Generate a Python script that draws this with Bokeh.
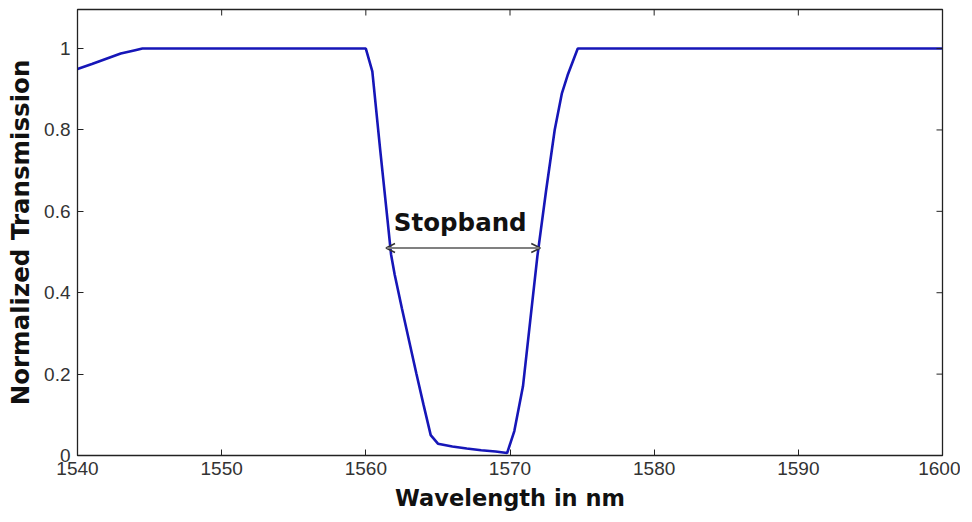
import math
from bokeh.plotting import figure
from bokeh.models import Range1d, FixedTicker, Arrow, OpenHead, Label
from bokeh.embed import file_html
from bokeh.resources import INLINE

# ---- data ----
wavelength = [1540, 1541, 1542, 1543, 1544, 1544.5, 1560, 1560.45, 1561.0, 1561.5,
              1561.75, 1562.0, 1562.5, 1563.0, 1563.5, 1564.0, 1564.5, 1565.0,
              1566.0, 1567.0, 1568.0, 1569.0, 1569.8, 1570.3, 1570.9, 1571.4,
              1571.9, 1572.5, 1573.1, 1573.6, 1574.0, 1574.7, 1600]
transmission = [0.950, 0.962, 0.975, 0.988, 0.996, 1.0, 1.0, 0.944, 0.75, 0.58,
                0.494, 0.445, 0.362, 0.282, 0.202, 0.125, 0.050, 0.029,
                0.022, 0.017, 0.013, 0.010, 0.006, 0.06, 0.17, 0.33,
                0.49, 0.65, 0.80, 0.89, 0.935, 1.0, 1.0]

x_ticks = [1540, 1550, 1560, 1570, 1580, 1590, 1600]
y_ticks = [0, 0.2, 0.4, 0.6, 0.8, 1]
y_tick_labels = {0: "0", 0.2: "0.2", 0.4: "0.4", 0.6: "0.6", 0.8: "0.8", 1: "1"}

x_min, x_max = 1540, 1600
y_min, y_max = 0, 1.096

stopband_start = 1561.4
stopband_end = 1572.1
stopband_level = 0.51
stopband_text = "Stopband"
stopband_text_x = 1566.55
stopband_text_y = 0.538

x_label = "Wavelength in nm"
y_label = "Normalized Transmission"

# ---- figure ----
p = figure(width=960, height=515, output_backend="svg", toolbar_location=None,
           x_range=Range1d(x_min, x_max), y_range=Range1d(y_min, y_max),
           min_border_left=77, min_border_right=18, min_border_top=9,
           min_border_bottom=60, background_fill_color="white",
           border_fill_color="white")
p.grid.visible = False
p.outline_line_color = "#222222"
p.outline_line_width = 1.3

p.line(wavelength, transmission, line_color="#1616b8", line_width=2.6)

tick_font = "Liberation Sans"
for ax in p.xaxis:
    ax.ticker = FixedTicker(ticks=x_ticks)
    ax.major_tick_in = 6
    ax.major_tick_out = 0
    ax.minor_tick_in = 0
    ax.minor_tick_out = 0
    ax.axis_line_color = "#222222"
    ax.major_tick_line_color = "#222222"
    ax.major_label_text_font = tick_font
    ax.major_label_text_font_size = "19px"
    ax.major_label_text_color = "#333333"
    ax.major_label_standoff = 6
    ax.axis_label = x_label
    ax.axis_label_text_font = "DejaVu Sans"
    ax.axis_label_text_font_style = "bold"
    ax.axis_label_text_font_size = "22.5px"
    ax.axis_label_text_color = "#111111"
    ax.axis_label_standoff = 7

for ax in p.yaxis:
    ax.ticker = FixedTicker(ticks=y_ticks)
    ax.major_label_overrides = y_tick_labels
    ax.major_tick_in = 6
    ax.major_tick_out = 0
    ax.minor_tick_in = 0
    ax.minor_tick_out = 0
    ax.axis_line_color = "#222222"
    ax.major_tick_line_color = "#222222"
    ax.major_label_text_font = tick_font
    ax.major_label_text_font_size = "19px"
    ax.major_label_text_color = "#333333"
    ax.major_label_standoff = 7
    ax.axis_label = y_label
    ax.axis_label_text_font = "DejaVu Sans"
    ax.axis_label_text_font_style = "bold"
    ax.axis_label_text_font_size = "24.5px"
    ax.axis_label_text_color = "#111111"
    ax.axis_label_standoff = 6

# mirrored inward ticks on the top and right edges (half of each dash is clipped by the frame)
p.scatter(x=x_ticks, y=[y_max] * len(x_ticks), marker="dash", size=12,
          angle=math.pi / 2, line_color="#222222", line_width=1)
p.scatter(x=[x_max] * len(y_ticks), y=y_ticks, marker="dash", size=12,
          line_color="#222222", line_width=1)

# stopband arrow and label
p.add_layout(Arrow(x_start=stopband_start, y_start=stopband_level,
                   x_end=stopband_end, y_end=stopband_level,
                   line_color="#808080", line_width=2,
                   start=OpenHead(size=9, line_color="#333333", line_width=1.5),
                   end=OpenHead(size=9, line_color="#333333", line_width=1.5)))
p.add_layout(Label(x=stopband_text_x, y=stopband_text_y, text=stopband_text,
                   text_font="DejaVu Sans", text_font_style="bold",
                   text_font_size="24.5px", text_align="center",
                   text_baseline="bottom", text_color="#111111"))

open("out.html", "w").write(file_html(p, INLINE))
